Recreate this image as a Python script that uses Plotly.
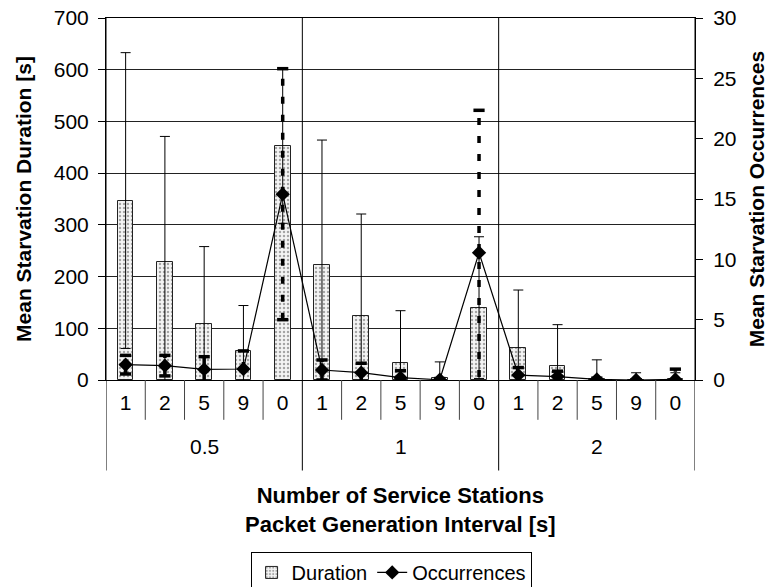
import plotly.graph_objects as go

# ---- data ----
groups = ["0.5", "1", "2"]
stations = ["1", "2", "5", "9", "0"]
duration = [347, 229, 108, 57, 453, 222, 123, 33, 3, 140, 62, 28, 2, 0.5, 1]
duration_err = [286, 242, 150, 87, 150, 242, 198, 101, 32, 137, 112, 79, 37, 13.5, 13]
occurrences = [1.27, 1.19, 0.88, 0.91, 15.4, 0.83, 0.61, 0.19, 0.02, 10.55, 0.41, 0.28, 0.05, 0.0, 0.05]
occurrences_err = [0.77, 0.85, 1.05, 1.5, 10.4, 0.83, 0.78, 0.58, 0.1, 11.8, 0.62, 0.45, 0.1, 0.02, 0.85]

FONT = "Liberation Sans, Arial, Helvetica, sans-serif"
n_in = len(stations)
n = len(groups) * n_in
xs = list(range(n))
ticktext = [s for g in groups for s in stations]

fig = go.Figure()

fig.add_trace(go.Bar(
    x=xs, y=duration, name="Duration", width=0.4,
    marker=dict(color="white", line=dict(color="#222", width=1),
                pattern=dict(shape=".", fgcolor="#555", bgcolor="#f4f4f4", size=4, solidity=0.3)),
    error_y=dict(type="data", array=duration_err, symmetric=True, color="black", thickness=1, width=5),
    yaxis="y",
))

# dashed error bars for occurrences
ex, ey, lo, hi = [], [], [], []
for x, v, e in zip(xs, occurrences, occurrences_err):
    ex += [x, x, None]
    ey += [v - e, v + e, None]
    lo.append(v - e)
    hi.append(v + e)
fig.add_trace(go.Scatter(x=ex, y=ey, mode="lines", yaxis="y2", showlegend=False, hoverinfo="skip",
                         line=dict(color="black", width=3.5, dash="7px,11px")))
fig.add_trace(go.Scatter(x=xs + xs, y=lo + hi, mode="markers", yaxis="y2", showlegend=False, hoverinfo="skip",
                         marker=dict(symbol="line-ew", size=8, line=dict(color="black", width=3.5))))

fig.add_trace(go.Scatter(
    x=xs, y=occurrences, name="Occurrences", mode="lines+markers", yaxis="y2",
    line=dict(color="black", width=1.2),
    marker=dict(symbol="diamond", size=11, color="black"),
))

# category separators and group labels
inner_bottom = -0.11
group_bottom = -0.25
shapes = []
for i in range(n + 1):
    xb = i - 0.5
    if i % n_in == 0:
        shapes.append(dict(type="line", xref="x", yref="paper", x0=xb, x1=xb, y0=group_bottom, y1=1,
                           line=dict(color="black", width=1)))
    else:
        shapes.append(dict(type="line", xref="x", yref="paper", x0=xb, x1=xb, y0=inner_bottom, y1=0,
                           line=dict(color="#444", width=1)))

annotations = []
for gi, g in enumerate(groups):
    annotations.append(dict(x=gi * n_in + (n_in - 1) / 2, y=-0.185, xref="x", yref="paper", text=g,
                            showarrow=False, font=dict(size=21, color="black", family=FONT),
                            yanchor="middle"))
annotations.append(dict(x=0.5, y=-0.36, xref="paper", yref="paper",
                        text="<b>Number of Service Stations</b><br><b>Packet Generation Interval [s]</b>",
                        showarrow=False, font=dict(size=22, color="black", family=FONT),
                        yanchor="middle"))

fig.update_layout(
    width=768, height=587,
    margin=dict(l=106, r=73, t=18, b=207, autoexpand=False),
    paper_bgcolor="white", plot_bgcolor="white",
    font=dict(family=FONT, color="black", size=21),
    bargap=0,
    xaxis=dict(range=[-0.5, n - 0.5], tickvals=xs, ticktext=ticktext, ticks="",
               showline=True, linecolor="black", linewidth=1, mirror=True,
               showgrid=False, zeroline=False, ticklabelstandoff=4,
               tickfont=dict(size=21)),
    yaxis=dict(range=[0, 700], dtick=100, ticks="outside", ticklen=7, tickcolor="black",
               showline=True, linecolor="black", showgrid=True, gridcolor="#222", gridwidth=1,
               zeroline=False, tickfont=dict(size=21), ticklabelstandoff=5,
               title=dict(text="<b>Mean Starvation Duration [s]</b>", font=dict(size=21), standoff=16)),
    yaxis2=dict(range=[0, 30], dtick=5, overlaying="y", side="right", ticks="outside", ticklen=7,
                tickcolor="black", showline=True, linecolor="black", showgrid=False, zeroline=False,
                tickfont=dict(size=21), ticklabelstandoff=6,
                title=dict(text="<b>Mean Starvation Occurrences</b>", font=dict(size=21), standoff=16)),
    showlegend=True,
    legend=dict(orientation="h", x=0.484, xanchor="center", y=-0.475, yanchor="top",
                bordercolor="black", borderwidth=1, font=dict(size=20), traceorder="normal",
                itemwidth=30, tracegroupgap=0),
    shapes=shapes, annotations=annotations,
)

fig.write_html("out.html")
